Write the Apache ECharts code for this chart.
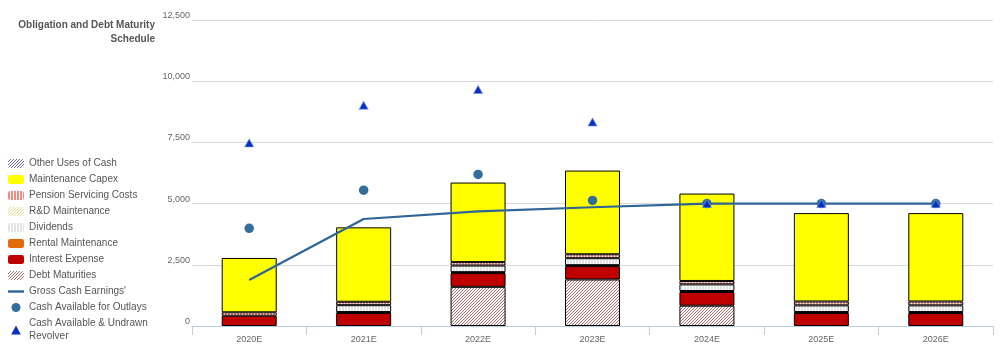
<!DOCTYPE html>
<html><head><meta charset="utf-8">
<script src="https://cdn.jsdelivr.net/npm/echarts@6/dist/echarts.min.js"></script>
<style>html,body{margin:0;padding:0;background:#fff}#c{width:1004px;height:358px}</style>
</head><body><div id="c"></div>
<script>
const categories = ['2020E','2021E','2022E','2023E','2024E','2025E','2026E'];
const debtMaturities   = [0, 0, 1600, 1900, 830, 0, 0];
const interestExpense  = [420, 530, 560, 545, 560, 530, 530];
const rentalMaint      = [0, 40, 40, 40, 40, 40, 40];
const dividends        = [0, 280, 270, 285, 270, 272, 272];
const rdMaint          = [0, 0, 0, 0, 0, 0, 0];
const pensionCosts     = [140, 140, 140, 160, 140, 160, 160];
const maintCapex       = [2220, 3040, 3250, 3420, 3570, 3610, 3610];
const otherUses        = [0, 0, 0, 0, 0, 0, 0];
const grossCash        = [1880, 4370, 4680, 4850, 5000, 5000, 5000];
const cashOutlays      = [3990, 5550, 6190, 5130, 5000, 5000, 5000];
const cashRevolver     = [7480, 9020, 9660, 8330, 5000, 5000, 5000];
const yTicks = {min: 0, max: 12500, interval: 2500};
const titleText = 'Obligation and Debt Maturity\nSchedule';

function pat(w, h, fn) {
  const c = document.createElement('canvas');
  c.width = w; c.height = h;
  const ctx = c.getContext('2d');
  for (let x = 0; x < w; x++) for (let y = 0; y < h; y++) {
    ctx.fillStyle = fn(x, y); ctx.fillRect(x, y, 1, 1);
  }
  return {image: c, repeat: 'repeat'};
}
const diag = (fg, bg, s) => pat(s*2, s*2, (x, y) => ((x + y) % s === s - 1) ? fg : bg);

const P = {
  debt: diag('#c06868', '#ffffff', 3),
  pension: pat(3, 3, (x) => x < 2 ? '#f48a84' : '#ffffff'),
  dividends: pat(3, 3, (x) => x < 2 ? '#e4e4e4' : '#ffffff'),
  rd: diag('#f3d98a', '#ffffff', 3),
  other: diag('#6a6ac0', '#ffffff', 3)
};

const nz = a => a.map(v => v === 0 ? '-' : v);
function bar(name, data, color) {
  return {name, type: 'bar', stack: 'obl', barWidth: 55, data: nz(data),
    itemStyle: {color, borderColor: '#000', borderWidth: 1}, emphasis: {disabled: true}};
}

const series = [
  bar('Debt Maturities', debtMaturities, P.debt),
  bar('Interest Expense', interestExpense, '#c00000'),
  bar('Rental Maintenance', rentalMaint, '#e36c0a'),
  bar('Dividends', dividends, P.dividends),
  bar('R&D Maintenance', rdMaint, P.rd),
  bar('Pension Servicing Costs', pensionCosts, P.pension),
  bar('Maintenance Capex', maintCapex, '#ffff00'),
  bar('Other Uses of Cash', otherUses, P.other),
  {name: "Gross Cash Earnings'", type: 'line', data: grossCash, symbol: 'none', z: 5,
    lineStyle: {color: '#2e6496', width: 2.2}, itemStyle: {color: '#2e6496'}},
  {name: 'Cash Available for Outlays', type: 'scatter', data: cashOutlays, symbol: 'circle', symbolSize: 9.5, z: 6,
    itemStyle: {color: '#336e9b', opacity: 1}},
  {name: 'Cash Available & Undrawn Revolver', type: 'scatter', data: cashRevolver, symbol: 'triangle', symbolSize: [9, 8], z: 7,
    itemStyle: {color: '#0a2fc0', opacity: 1, borderColor: 'rgba(110,150,235,0.6)', borderWidth: 1}}
];

const legendOrder = ['Other Uses of Cash','Maintenance Capex','Pension Servicing Costs','R&D Maintenance','Dividends',
  'Rental Maintenance','Interest Expense','Debt Maturities',"Gross Cash Earnings'",'Cash Available for Outlays','Cash Available & Undrawn Revolver'];
const legendIcons = {
  "Gross Cash Earnings'": 'path://M0 0H16V2.4H0Z',
  'Cash Available for Outlays': 'circle',
  'Cash Available & Undrawn Revolver': 'path://M4 0L8 7.5H0Z'
};

const chart = echarts.init(document.getElementById('c'), null, {renderer: 'canvas'});
chart.setOption({
  animation: false,
  backgroundColor: '#fff',
  textStyle: {fontFamily: 'Liberation Sans, Arial, sans-serif'},
  graphic: [{
    type: 'text', x: 155, y: 18,
    style: {text: titleText, align: 'right', verticalAlign: 'top',
      fontSize: 10, fontWeight: 'bold', fontFamily: 'Liberation Sans, Arial, sans-serif',
      fill: '#555', lineHeight: 14}
  }],
  legend: {
    orient: 'vertical', left: 8, top: 157, padding: 0, itemGap: 3,
    itemWidth: 16, itemHeight: 9,
    selectedMode: false,
    itemStyle: {borderWidth: 0, opacity: 1},
    textStyle: {fontSize: 10, color: '#555', lineHeight: 13},
    formatter: n => n === 'Cash Available & Undrawn Revolver' ? 'Cash Available & Undrawn\nRevolver' : n,
    data: legendOrder.map(n => legendIcons[n] ? {name: n, icon: legendIcons[n]} : n)
  },
  grid: {left: 192, right: 11, top: 20, bottom: 32},
  xAxis: {
    type: 'category', data: categories,
    axisLine: {lineStyle: {color: '#bccde0'}},
    axisTick: {show: true, length: 9, lineStyle: {color: '#bccde0'}},
    axisLabel: {fontSize: 9, color: '#666', margin: 9}
  },
  yAxis: {
    type: 'value', min: yTicks.min, max: yTicks.max, interval: yTicks.interval,
    axisLine: {show: false}, axisTick: {show: false},
    axisLabel: {fontSize: 9, color: '#666', margin: 2, verticalAlign: 'bottom',
      formatter: v => v.toLocaleString('en-US')},
    splitLine: {lineStyle: {color: '#d9d9d9'}}
  },
  series
});
</script></body></html>
